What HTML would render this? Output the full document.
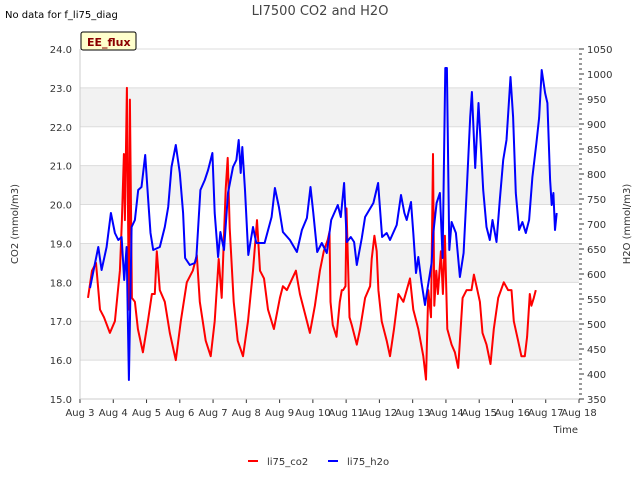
<!DOCTYPE html>
<html><head><meta charset="utf-8"><style>
body{margin:0;background:#fff;font-family:"Liberation Sans","DejaVu Sans",sans-serif;}
svg text{font-family:"DejaVu Sans","Liberation Sans",sans-serif;}
</style></head><body>
<svg id="chart" width="640" height="480" xmlns="http://www.w3.org/2000/svg">
<g id="bands"></g><g id="grid"></g><g id="axes"></g>
<g id="series"></g>
</svg>
<script>
const xTickLabels=["Aug 3","Aug 4","Aug 5","Aug 6","Aug 7","Aug 8","Aug 9","Aug 10","Aug 11","Aug 12","Aug 13","Aug 14","Aug 15","Aug 16","Aug 17","Aug 18"];
const leftTicks=[15,16,17,18,19,20,21,22,23,24];
const rightTicks=[350,400,450,500,550,600,650,700,750,800,850,900,950,1000,1050];
const co2Days=[0.24,0.36,0.48,0.6,0.72,0.9,1.05,1.2,1.26,1.32,1.35,1.41,1.47,1.5,1.56,1.65,1.74,1.89,2.04,2.16,2.25,2.31,2.4,2.55,2.7,2.88,3.03,3.21,3.39,3.51,3.6,3.78,3.93,4.05,4.17,4.26,4.38,4.44,4.5,4.62,4.74,4.9,5.05,5.2,5.32,5.41,5.53,5.65,5.83,6.01,6.1,6.22,6.49,6.61,6.76,6.91,7.06,7.21,7.33,7.45,7.5,7.53,7.6,7.71,7.81,7.87,7.91,7.98,8.01,8.1,8.17,8.32,8.42,8.57,8.72,8.77,8.85,8.92,8.97,9.07,9.22,9.32,9.44,9.57,9.72,9.92,10.02,10.17,10.32,10.4,10.47,10.55,10.61,10.65,10.71,10.76,10.85,10.91,10.97,11.04,11.17,11.27,11.37,11.5,11.62,11.77,11.84,11.92,12.02,12.1,12.22,12.34,12.44,12.57,12.74,12.87,12.97,13.04,13.17,13.27,13.37,13.44,13.52,13.57,13.64,13.7];
const co2Values=[17.6,18.3,18.5,17.3,17.1,16.7,17.0,18.3,19.6,21.3,19.6,23.0,17.3,22.7,17.6,17.5,16.8,16.2,17.0,17.7,17.7,18.8,17.8,17.5,16.7,16.0,17.0,18.0,18.3,18.7,17.5,16.5,16.1,17.0,18.6,17.6,20.4,21.2,19.4,17.5,16.5,16.1,17.0,18.3,19.6,18.3,18.1,17.3,16.8,17.6,17.9,17.8,18.3,17.7,17.2,16.7,17.4,18.3,18.8,19.1,19.3,17.5,16.9,16.6,17.5,17.8,17.8,17.9,19.9,17.1,16.9,16.4,16.8,17.6,17.9,18.6,19.2,18.8,17.8,17.0,16.5,16.1,16.8,17.7,17.5,18.1,17.3,16.8,16.1,15.5,17.8,17.1,21.3,17.4,18.3,17.7,18.8,17.7,19.2,16.8,16.4,16.2,15.8,17.6,17.8,17.8,18.2,17.9,17.5,16.7,16.4,15.9,16.8,17.6,18.0,17.8,17.8,17.0,16.5,16.1,16.1,16.6,17.7,17.4,17.6,17.8];
const h2oDays=[0.3,0.55,0.65,0.8,0.93,1.05,1.15,1.25,1.33,1.4,1.47,1.55,1.65,1.75,1.85,1.96,2.05,2.12,2.2,2.4,2.55,2.65,2.75,2.88,3.0,3.1,3.16,3.3,3.45,3.5,3.62,3.75,3.85,3.98,4.05,4.15,4.22,4.33,4.45,4.6,4.7,4.77,4.83,4.88,4.96,5.06,5.2,5.3,5.55,5.76,5.86,5.98,6.1,6.31,6.52,6.67,6.82,6.93,7.01,7.13,7.27,7.42,7.55,7.75,7.84,7.94,8.02,8.14,8.24,8.32,8.47,8.57,8.82,8.96,9.08,9.22,9.32,9.52,9.65,9.75,9.82,9.95,10.02,10.1,10.17,10.27,10.37,10.44,10.57,10.62,10.72,10.82,10.9,10.98,11.03,11.1,11.17,11.3,11.42,11.53,11.63,11.73,11.78,11.88,11.98,12.05,12.12,12.22,12.32,12.4,12.52,12.62,12.72,12.82,12.94,13.02,13.1,13.2,13.3,13.4,13.5,13.6,13.72,13.8,13.88,13.98,14.05,14.13,14.18,14.23,14.28,14.33];
const h2oValues=[572,654,608,654,722,682,668,674,588,654,388,694,708,768,774,838,748,682,648,654,694,734,814,858,802,722,632,618,622,634,768,788,808,842,722,634,684,648,762,814,828,868,802,854,768,638,694,662,662,714,772,734,684,668,644,688,712,774,724,644,662,642,708,738,714,782,664,674,664,618,672,714,742,782,674,682,668,698,758,722,708,744,682,602,634,582,538,568,622,682,742,762,632,1012,1012,648,704,682,594,642,774,914,964,812,942,854,768,694,668,708,664,748,828,868,994,914,762,688,704,682,708,794,862,912,1008,962,942,788,738,762,688,722];

const L=80,R=579,T=49,B=399;
const xs=d=>L+d*(R-L)/15;
const yL=v=>B-(v-15)*(B-T)/9;
const yR=v=>B-(v-350)*(B-T)/700;
const NS="http://www.w3.org/2000/svg";
function mk(tag,parent,attrs,text){const e=document.createElementNS(NS,tag);for(const k in attrs)e.setAttribute(k,attrs[k]);if(text!==undefined)e.textContent=text;parent.appendChild(e);return e;}
const bands=document.getElementById('bands'),grid=document.getElementById('grid'),axes=document.getElementById('axes'),series=document.getElementById('series');
[16,18,20,22].forEach(v=>{const r=mk('rect',bands,{x:L,y:yL(v+1),width:R-L,height:yL(v)-yL(v+1),fill:'#f2f2f2'});

});
leftTicks.forEach(v=>{const l=mk('line',grid,{x1:L,x2:R,y1:yL(v),y2:yL(v),stroke:'#dcdcdc','stroke-width':1});


const t=mk('text',axes,{x:L-8,y:yL(v)+4,'text-anchor':'end','font-size':10,fill:'#333'},v.toFixed(1));

});
rightTicks.forEach(v=>{const t=mk('text',axes,{x:R+8,y:yR(v)+4,'font-size':10,fill:'#333'},String(v));


mk('line',axes,{x1:R,x2:R+5,y1:yR(v),y2:yR(v),stroke:'#333'});});
for(let v=360;v<1050;v+=10){if(v%50)mk('line',axes,{x1:R,x2:R+3,y1:yR(v),y2:yR(v),stroke:'#333'});}
xTickLabels.forEach((s,i)=>{const t=mk('text',axes,{x:xs(i),y:B+17,'text-anchor':'middle','font-size':10,fill:'#333'},s);


mk('line',axes,{x1:xs(i),x2:xs(i),y1:B,y2:B+4,stroke:'#333'});});
mk('line',axes,{x1:L,x2:L,y1:T,y2:B,stroke:'#ccc'});
mk('line',axes,{x1:L,x2:R,y1:B,y2:B,stroke:'#ccc'});
function path(days,vals,yf,color,name){let d='';days.forEach((x,i)=>{d+=(i?'L':'M')+xs(x).toFixed(1)+','+yf(vals[i]).toFixed(1);});
const p=mk('path',series,{d:d,fill:'none',stroke:color,'stroke-width':2,'stroke-linejoin':'round'});

}
path(co2Days,co2Values,yL,'#ff0000','co2-line');
path(h2oDays,h2oValues,yR,'#0000ff','h2o-line');
</script>
<svg width="640" height="480" style="position:absolute;left:0;top:0" xmlns="http://www.w3.org/2000/svg">
<text x="320" y="15" text-anchor="middle" font-size="13" fill="#444">LI7500 CO2 and H2O</text>
<text x="5" y="18" font-size="10" fill="#000">No data for f_li75_diag</text>
<g><rect x="81" y="32" width="55" height="18" fill="#ffffcc" stroke="#000" rx="2"/><text x="87" y="46" font-size="11" font-weight="bold" fill="#8b0000">EE_flux</text></g>
<text transform="translate(18,224) rotate(-90)" text-anchor="middle" font-size="10" fill="#333">CO2 (mmol/m3)</text>
<text transform="translate(630,224) rotate(-90)" text-anchor="middle" font-size="10" fill="#333">H2O (mmol/m3)</text>
<text x="578" y="433" text-anchor="end" font-size="10" fill="#333">Time</text>
<g><line x1="248" x2="258" y1="461" y2="461" stroke="#f00" stroke-width="2"/><text x="267" y="465" font-size="10" fill="#333">li75_co2</text></g>
<g><line x1="328" x2="338" y1="461" y2="461" stroke="#00f" stroke-width="2"/><text x="347" y="465" font-size="10" fill="#333">li75_h2o</text></g>
</svg>
</body></html>
